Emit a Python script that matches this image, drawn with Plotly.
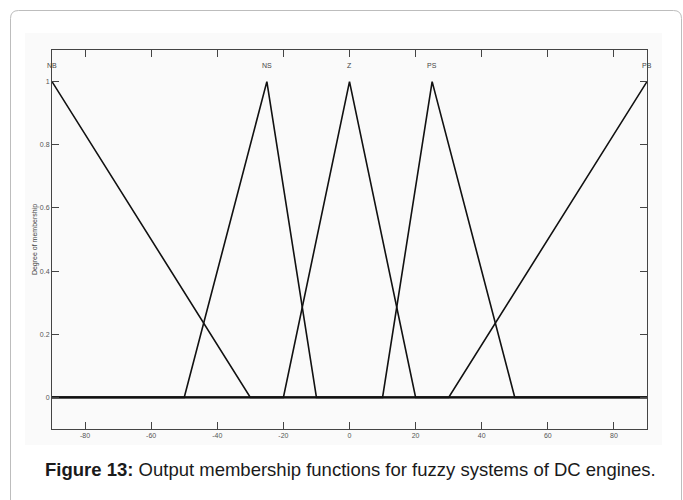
import plotly.graph_objects as go

# Membership function names and their breakpoints (x, degree)
mf_names = ["NB", "NS", "Z", "PS", "PB"]
mf_x = [
    [-90, -30, 90],
    [-90, -50, -25, -10, 90],
    [-90, -20, 0, 20, 90],
    [-90, 10, 25, 50, 90],
    [-90, 30, 90],
]
mf_y = [
    [1, 0, 0],
    [0, 0, 1, 0, 0],
    [0, 0, 1, 0, 0],
    [0, 0, 1, 0, 0],
    [0, 0, 1],
]
label_x = [-90, -25, 0, 25, 90]
x_ticks = [-80, -60, -40, -20, 0, 20, 40, 60, 80]
x_tick_text = ["-80", "-60", "-40", "-20", "0", "20", "40", "60", "80"]
y_ticks = [0, 0.2, 0.4, 0.6, 0.8, 1]
y_tick_text = ["0", "0.2", "0.4", "0.6", "0.8", "1"]

caption_bold = "Figure 13:"
caption_rest = " Output membership functions for fuzzy systems of DC engines."

fig = go.Figure()
for xs, ys in zip(mf_x, mf_y):
    fig.add_trace(go.Scatter(x=xs, y=ys, mode="lines",
                             line=dict(color="#111111", width=1.6),
                             hoverinfo="skip", showlegend=False))

for name, lx in zip(mf_names, label_x):
    fig.add_annotation(x=lx, y=1.05, xref="x", yref="y", text=name,
                       showarrow=False, font=dict(size=7, color="#444444",
                                                  family="Liberation Sans"))

# plot area in px: l=52, r=647, t=50, b=429
W, H = 683, 500
L, R, T, B = 52, 647, 50, 429
pw, ph = R - L, B - T

def px(xp):
    return (xp - L) / pw

def py(yp):
    return (B - yp) / ph

# Card border with rounded corners
x0, x1, y0, y1 = px(10.5), px(681.5), py(10.5), py(520)
rx, ry = 8 / pw, 8 / ph
path = (f"M {x0},{y1} L {x0},{y0 - ry} Q {x0},{y0} {x0 + rx},{y0} "
        f"L {x1 - rx},{y0} Q {x1},{y0} {x1},{y0 - ry} L {x1},{y1}")
fig.add_shape(type="path", path=path, xref="paper", yref="paper",
              line=dict(color="#bdbdbd", width=1), layer="below")
# faint figure background region
fig.add_shape(type="rect", xref="paper", yref="paper",
              x0=px(25), x1=px(662), y0=py(33), y1=py(445),
              fillcolor="#fafafa", line=dict(width=0), layer="below")

fig.add_annotation(x=px(43), y=py(469), xref="paper", yref="paper",
                   xanchor="left", yanchor="middle", showarrow=False,
                   text=f"<b>{caption_bold}</b>{caption_rest}",
                   font=dict(size=18.5, color="#1a1a1a", family="Liberation Sans"))

fig.update_layout(
    width=W, height=H,
    margin=dict(l=L, r=W - R, t=T, b=H - B),
    paper_bgcolor="white",
    plot_bgcolor="#f9f9f9",
    showlegend=False,
    font=dict(family="Liberation Sans", size=7, color="#444444"),
)
fig.update_xaxes(range=[-90, 90], tickvals=x_ticks, ticktext=x_tick_text,
                 ticks="inside", ticklen=7,
                 tickcolor="#444444", showline=True, linecolor="#444444",
                 linewidth=1, mirror="ticks", showgrid=False, zeroline=False,
                 tickfont=dict(size=7, color="#555555"))
fig.update_yaxes(range=[-0.1, 1.1], tickvals=y_ticks, ticktext=y_tick_text,
                 ticks="inside", ticklen=7, tickcolor="#444444", showline=True,
                 linecolor="#444444", linewidth=1, mirror="ticks",
                 showgrid=False, zeroline=False,
                 tickfont=dict(size=7, color="#555555"),
                 title=dict(text="Degree of membership", standoff=1,
                            font=dict(size=7, color="#444444")))

fig.write_html("out.html")
